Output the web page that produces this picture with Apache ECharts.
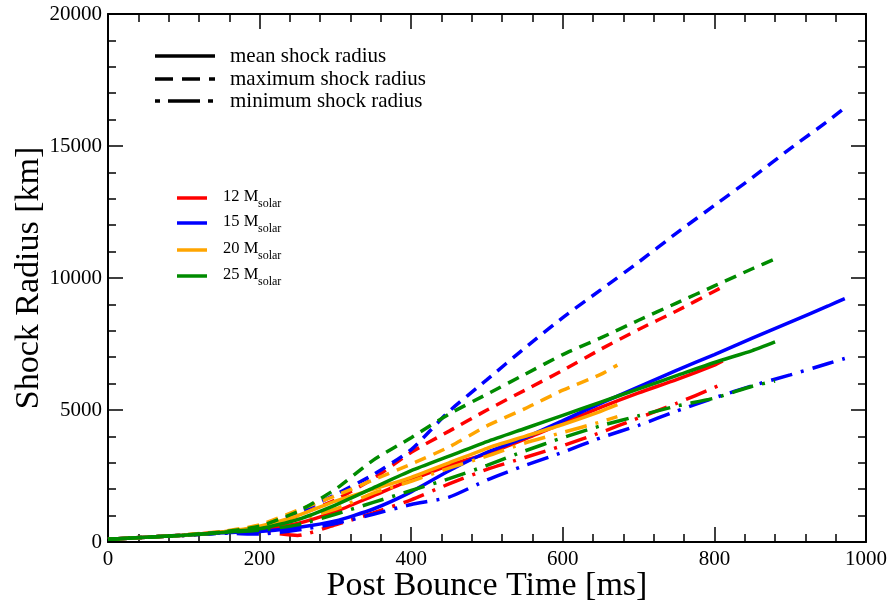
<!DOCTYPE html>
<html>
<head>
<meta charset="utf-8">
<script src="https://cdn.jsdelivr.net/npm/echarts@6/dist/echarts.min.js"></script>
<style>
  html, body { margin: 0; padding: 0; background: #fff; }
  #chart { width: 889px; height: 605px; }
</style>
</head>
<body>
<div id="chart"></div>
<script>
// Post-bounce time grids (ms), one per progenitor mass
var time12 = [0, 50, 100, 150, 200, 250, 300, 350, 400, 450, 500, 550, 600, 650, 700, 750, 800, 811];
var time15 = [0, 50, 100, 150, 200, 250, 300, 350, 400, 450, 500, 550, 600, 650, 700, 750, 800, 850, 900, 950, 972];
var time20 = [0, 50, 100, 150, 200, 250, 300, 350, 400, 450, 500, 550, 600, 650, 672];
var time25 = [0, 50, 100, 150, 200, 250, 300, 350, 400, 450, 500, 550, 600, 650, 700, 750, 800, 850, 880];

// Shock radii (km): mean / maximum / minimum
var mean12 = [100, 180, 260, 380, 450, 700, 1150, 1750, 2350, 2900, 3350, 3900, 4500, 5100, 5650, 6150, 6700, 6856];
var max12  = [100, 180, 260, 370, 500, 1000, 1600, 2400, 3400, 4200, 5000, 5750, 6500, 7300, 8050, 8750, 9500, 9660];
var min12  = [100, 180, 250, 350, 380, 250, 650, 1100, 1600, 2200, 2750, 3200, 3650, 4150, 4700, 5250, 5850, 6000];

var mean15 = [100, 180, 260, 350, 400, 550, 800, 1250, 1900, 2700, 3400, 3950, 4600, 5250, 5880, 6500, 7100, 7720, 8330, 8940, 9220];
var max15  = [100, 180, 260, 360, 550, 1100, 1800, 2550, 3500, 4950, 6150, 7350, 8500, 9550, 10600, 11700, 12750, 13800, 14900, 15950, 16450];
var min15  = [100, 180, 250, 330, 300, 450, 700, 1050, 1420, 1700, 2350, 2900, 3400, 3950, 4420, 4960, 5460, 5920, 6330, 6760, 6950];

var mean20 = [100, 180, 260, 380, 600, 1000, 1550, 2000, 2450, 3000, 3550, 4000, 4450, 4950, 5200];
var max20  = [100, 180, 270, 400, 650, 1200, 1750, 2350, 2950, 3600, 4400, 5050, 5750, 6350, 6700];
var min20  = [100, 180, 260, 370, 550, 850, 1250, 1850, 2300, 2800, 3250, 3750, 4150, 4550, 4750];

var mean25 = [100, 180, 260, 360, 500, 850, 1400, 2050, 2700, 3250, 3800, 4300, 4800, 5300, 5800, 6300, 6800, 7250, 7576];
var max25  = [100, 180, 260, 380, 600, 1150, 2000, 3100, 3950, 4850, 5600, 6350, 7100, 7730, 8400, 9050, 9700, 10350, 10720];
var min25  = [100, 180, 250, 350, 450, 650, 1050, 1500, 1950, 2400, 2900, 3450, 3950, 4400, 4780, 5150, 5450, 5900, 6100];

// Legend labels
var massLabels = ['12 M', '15 M', '20 M', '25 M'];
var styleLabels = ['mean shock radius', 'maximum shock radius', 'minimum shock radius'];

var colors = { m12: '#ff0000', m15: '#0000ff', m20: '#ffa500', m25: '#008b00' };
var FONT = '"Liberation Serif", "Times New Roman", serif';
var DASH_MAX = [12, 8];
var DASH_MIN = [22, 9, 3, 9];

function zip(ts, vs) {
  return ts.map(function (t, i) { return [t, vs[i]]; });
}

function curve(name, ts, vs, color, dash) {
  return {
    name: name,
    type: 'line',
    xAxisIndex: 0,
    yAxisIndex: 0,
    data: zip(ts, vs),
    smooth: 0.2,
    showSymbol: false,
    symbol: 'none',
    animation: false,
    lineStyle: { color: color, width: 3.5, type: dash || 'solid' }
  };
}

var series = [
  curve('12 max', time12, max12, colors.m12, DASH_MAX),
  curve('12 min', time12, min12, colors.m12, DASH_MIN),
  curve('12 mean', time12, mean12, colors.m12),
  curve('15 max', time15, max15, colors.m15, DASH_MAX),
  curve('15 min', time15, min15, colors.m15, DASH_MIN),
  curve('15 mean', time15, mean15, colors.m15),
  curve('20 max', time20, max20, colors.m20, DASH_MAX),
  curve('20 min', time20, min20, colors.m20, DASH_MIN),
  curve('20 mean', time20, mean20, colors.m20),
  curve('25 max', time25, max25, colors.m25, DASH_MAX),
  curve('25 min', time25, min25, colors.m25, DASH_MIN),
  curve('25 mean', time25, mean25, colors.m25)
];

var axisLineStyle = { color: '#000', width: 2 };
function frameAxis(extra) {
  var base = {
    axisLine: { show: true, onZero: false, lineStyle: axisLineStyle },
    axisTick: { show: true, inside: true, length: 15, lineStyle: { color: '#000', width: 1.5 } },
    minorTick: { show: true, splitNumber: 5, length: 8, lineStyle: { color: '#000', width: 1.5 } },
    splitLine: { show: false },
    minorSplitLine: { show: false }
  };
  for (var k in extra) base[k] = extra[k];
  return base;
}
function plainNumber(v) { return String(v); }

// Legend graphics: line-style key and mass key
var graphics = [];
var styleDashes = [null, [18, 9], [5, 8, 32, 8]];
var styleY = [56, 79, 101];
styleLabels.forEach(function (label, i) {
  graphics.push({
    type: 'line',
    shape: { x1: 155, y1: styleY[i], x2: 215, y2: styleY[i] },
    style: { stroke: '#000', lineWidth: 3.5, lineDash: styleDashes[i] }
  });
  graphics.push({
    type: 'text',
    x: 230, y: styleY[i],
    style: { text: label, font: '21px ' + FONT, fill: '#000', textVerticalAlign: 'middle' }
  });
});
var massColors = [colors.m12, colors.m15, colors.m20, colors.m25];
var massY = [198, 223, 250, 276];
massLabels.forEach(function (label, i) {
  graphics.push({
    type: 'line',
    shape: { x1: 177, y1: massY[i], x2: 207, y2: massY[i] },
    style: { stroke: massColors[i], lineWidth: 3.5, lineDash: null }
  });
  graphics.push({
    type: 'text',
    x: 223, y: massY[i] - 1,
    style: { text: label, font: '16.5px ' + FONT, fill: '#000', textVerticalAlign: 'middle' }
  });
  graphics.push({
    type: 'text',
    x: 258, y: massY[i] + 6,
    style: { text: 'solar', font: '12px ' + FONT, fill: '#000', textVerticalAlign: 'middle' }
  });
});

var chart = echarts.init(document.getElementById('chart'), null, { renderer: 'canvas' });
chart.setOption({
  backgroundColor: '#fff',
  animation: false,
  grid: { left: 108, right: 23, top: 14, bottom: 63, containLabel: false, outerBoundsMode: 'none' },
  xAxis: [
    frameAxis({
      type: 'value', min: 0, max: 1000, interval: 200, position: 'bottom',
      name: 'Post Bounce Time [ms]', nameLocation: 'middle', nameGap: 27, nameMoveOverlap: false,
      nameTextStyle: { fontFamily: FONT, fontSize: 34, color: '#000', verticalAlign: 'top' },
      axisLabel: { show: true, margin: 7, fontFamily: FONT, fontSize: 21, color: '#000', formatter: plainNumber }
    }),
    frameAxis({
      type: 'value', min: 0, max: 1000, interval: 200, position: 'top',
      axisLabel: { show: false }
    })
  ],
  yAxis: [
    frameAxis({
      type: 'value', min: 0, max: 20000, interval: 5000, position: 'left',
      name: 'Shock Radius [km]', nameLocation: 'middle', nameGap: 62, nameRotate: 90, nameMoveOverlap: false,
      nameTextStyle: { fontFamily: FONT, fontSize: 34, color: '#000' },
      axisLabel: { show: true, margin: 6, fontFamily: FONT, fontSize: 21, color: '#000', formatter: plainNumber }
    }),
    frameAxis({
      type: 'value', min: 0, max: 20000, interval: 5000, position: 'right',
      axisLabel: { show: false }
    })
  ],
  series: series,
  graphic: graphics
});
</script>
</body>
</html>
